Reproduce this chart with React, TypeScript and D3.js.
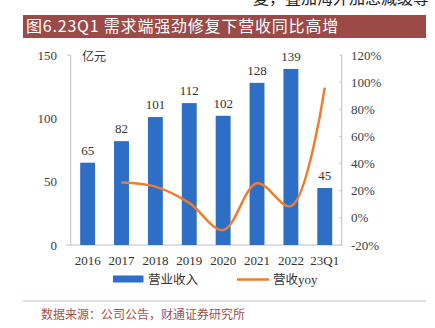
import React from "react";
import * as d3 from "d3";

const categories = ["2016", "2017", "2018", "2019", "2020", "2021", "2022", "23Q1"];
const revenue = [65, 82, 101, 112, 102, 128, 139, 45];
const yoyCats = ["2017", "2018", "2019", "2020", "2021", "2022", "23Q1"];
const yoy = [26, 23, 11, -9, 25.5, 8.6, 96];
const leftTicks = [0, 50, 100, 150];
const rightTicks = [-20, 0, 20, 40, 60, 80, 100, 120];

const W = 435, H = 328;
const serif = "'Liberation Serif', 'DejaVu Serif', serif";
const cjk = "'Noto Sans CJK SC', sans-serif";

export default function App() {
  const x = d3.scaleBand<string>().domain(categories).range([70.7, 341.7]).paddingInner(0.56).paddingOuter(0.28);
  const yL = d3.scaleLinear().domain([0, 150]).range([245, 55]);
  const yR = d3.scaleLinear().domain([-20, 120]).range([245, 55]);
  const line = d3.line<number>()
    .x((_, i) => (x(yoyCats[i]) as number) + x.bandwidth() / 2)
    .y((d) => yR(d))
    .curve(d3.curveCatmullRom.alpha(0.5));
  return (
    <svg width={W} height={H} style={{ position: "absolute", left: 0, top: 0, background: "#fff" }}>
      <text x={253} y={4} fontFamily={cjk} fontSize={16} fill="#222">复，叠加海外加息减缓等</text>
      <rect x={23} y={15} width={403} height={23} fill="#9C4A47" />
      <text x={26} y={32} fontFamily={cjk} fontSize={16} letterSpacing={0.8} fill="#fff">图6.23Q1 需求端强劲修复下营收同比高增</text>

      {/* axes */}
      <line x1={70.7} x2={70.7} y1={55} y2={245} stroke="#BFBFBF" />
      <line x1={67} x2={70.7} y1={55} y2={55} stroke="#BFBFBF" />
      <line x1={341.7} x2={341.7} y1={55} y2={245} stroke="#BFBFBF" />
      <line x1={66} x2={342} y1={245} y2={245} stroke="#BFBFBF" />
      {rightTicks.map((t) => (
        <line key={"rt" + t} x1={339.5} x2={341.7} y1={yR(t)} y2={yR(t)} stroke="#BFBFBF" />
      ))}
      {leftTicks.map((t) => (
        <text key={"l" + t} x={57} y={yL(t) + 4.5} textAnchor="end" fontFamily={serif} fontSize={13} fill="#404040">{t}</text>
      ))}
      {rightTicks.map((t) => (
        <text key={"r" + t} x={351} y={yR(t) + 4.5} fontFamily={serif} fontSize={13} fill="#404040">{t + "%"}</text>
      ))}
      <text x={82} y={61} fontFamily={cjk} fontSize={12} fill="#333">亿元</text>

      {revenue.map((v, i) => (
        <rect key={"b" + i} x={x(categories[i])} y={yL(v)} width={x.bandwidth()} height={245 - yL(v)} fill="#2E6FC5" />
      ))}
      {revenue.map((v, i) => (
        <text key={"v" + i} x={(x(categories[i]) as number) + x.bandwidth() / 2} y={yL(v) - 8} textAnchor="middle" fontFamily={serif} fontSize={13} fill="#333">{v}</text>
      ))}
      {categories.map((c) => (
        <text key={"c" + c} x={(x(c) as number) + x.bandwidth() / 2} y={264.5} textAnchor="middle" fontFamily={serif} fontSize={13} fill="#333">{c}</text>
      ))}
      <path d={line(yoy) || ""} fill="none" stroke="#ED7D31" strokeWidth={2.5} />

      {/* legend */}
      <rect x={113} y={275.5} width={30.5} height={7} fill="#2E6FC5" />
      <text x={148} y={283.5} fontFamily={cjk} fontSize={12.5} fill="#333">营业收入</text>
      <line x1={237} x2={269} y1={279.5} y2={279.5} stroke="#ED7D31" strokeWidth={2.5} />
      <text x={273} y={283.5} fontFamily={cjk} fontSize={12.5} fill="#333">营收<tspan fontFamily={serif} fontSize={13}>yoy</tspan></text>

      <line x1={23} x2={426} y1={301} y2={301} stroke="#D2B2B0" strokeWidth={1} />
      <text x={41} y={319} fontFamily={cjk} fontSize={12} fill="#A4504D">数据来源：公司公告，财通证券研究所</text>
    </svg>
  );
}
